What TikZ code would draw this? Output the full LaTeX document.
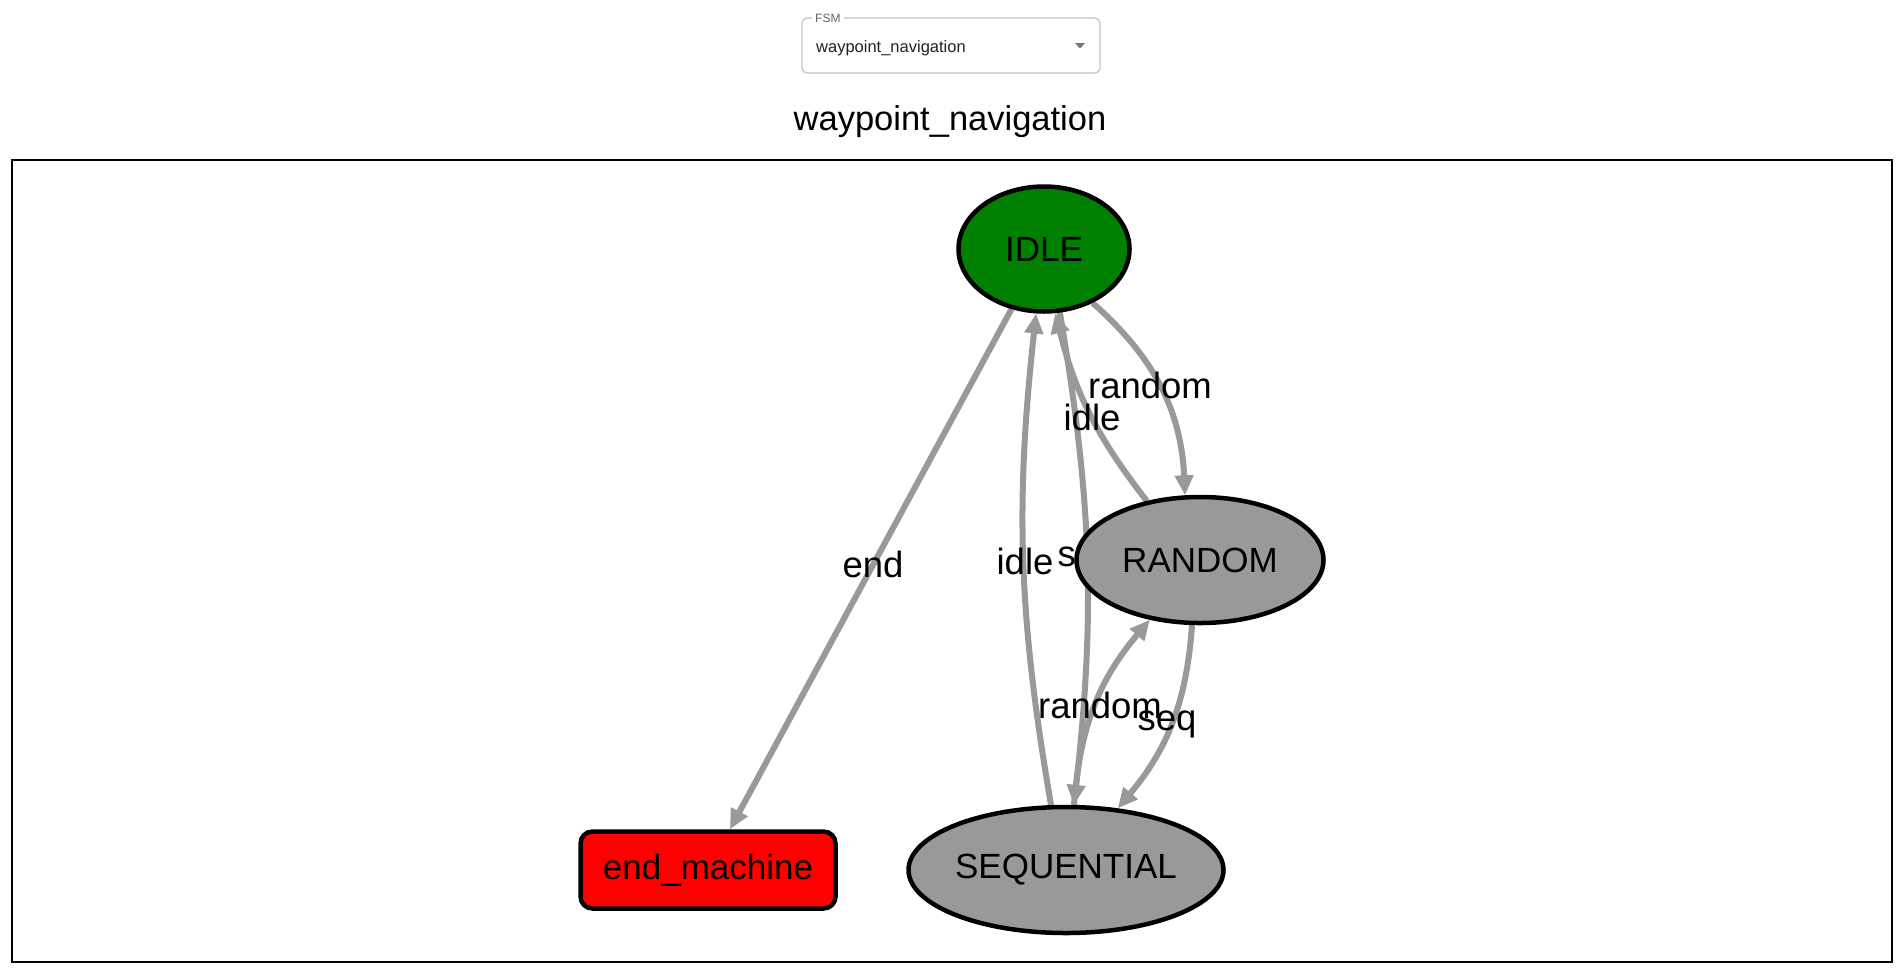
\documentclass[tikz,border=0pt]{standalone}
\usepackage{fontspec}
\setmainfont{Liberation Sans}
\usepackage{xcolor}
\usetikzlibrary{positioning,shapes.geometric,arrows.meta,backgrounds}

\definecolor{idlegreen}{HTML}{008000}
\definecolor{stategray}{HTML}{999999}
\definecolor{boxgray}{HTML}{C4C4C4}
\definecolor{labelgray}{HTML}{666666}

\begin{document}
\begin{tikzpicture}[
	x=1pt, y=-1pt, % 1 đơn vị = 1 px của ảnh gốc
	state/.style={
		ellipse,
		draw=black, line width=4.5pt,
		fill=stategray,
		inner sep=0pt,
		minimum height=126pt,
		font=\fontsize{35}{40}\selectfont
	},
	endstate/.style={          % Trạng thái kết thúc (đỏ)
		rectangle, rounded corners=12pt,
		draw=black, line width=4.5pt,
		fill=red,
		minimum width=255pt, minimum height=77pt,
		font=\fontsize{35}{40}\selectfont
	},
	trans/.style={             % Mũi tên chuyển trạng thái
		draw=stategray, line width=6pt,
		-{Triangle[length=20pt, width=18pt]}
	},
	elabel/.style={
		inner sep=0pt,
		font=\fontsize{36.5}{40}\selectfont
	},
	selbox/.style={            % Ô chọn FSM
		draw=boxgray, line width=1.2pt, rounded corners=5pt,
		minimum width=298pt, minimum height=55pt
	}
	]
	\useasboundingbox (0,0) rectangle (1902,978);
	
	% --- Ô CHỌN + TIÊU ĐỀ ---
	\node[selbox] (fsmbox) at (951,45.5) {};
	\node[fill=white, inner sep=3pt, anchor=west, text=labelgray,
		font=\fontsize{12}{14}\selectfont] (fsmlbl) at (812,18) {FSM};
	\node[anchor=west, inner sep=0pt, text=black!87,
		font=\fontsize{16.5}{20}\selectfont] (fsmsel) at (816,48) {waypoint\_navigation};
	\fill[black!54] (1075,43) -- (1085,43) -- (1080,48.5) -- cycle;
	\node[font=\fontsize{34.5}{40}\selectfont] (title) at (950,122) {waypoint\_navigation};
	
	% --- TRẠNG THÁI ---
	\node[state, fill=idlegreen, minimum width=171pt, minimum height=125pt] (idle) at (1044,249) {IDLE};
	\node[state, minimum width=247pt] (random) at (1200,560) {RANDOM};
	\node[state, minimum width=315pt] (seq) at (1066,870) {SEQUENTIAL};
	\node[endstate] (endm) at (708,870) {end\_machine};
	
	\begin{scope}[on background layer]
		\fill[white] (0,0) rectangle (1902,978);
		\draw[line width=1.2pt] (12,160) rectangle (1892,962);
		
		% Mũi tên giữa các trạng thái
		\draw[trans] (idle) -- (endm);
		\draw[trans] (idle.-48) to[bend left=23] (random.103);
		\draw[trans] (random.132) to[bend left=12] (idle.-80);
		\draw[trans] (seq.103) to[bend left=8] (idle.-97);
		\draw[trans] (idle.-76) to[bend left=8] (seq.83);
		\draw[trans] (seq.83) to[bend left=18] (random.-130);
		\draw[trans] (random.-97) to[bend left=18] (seq.50);
		
		% Nhãn
		\node[elabel] (l-end) at (873,564) {end};
		\node[elabel] (l-random1) at (1150,385) {random};
		\node[elabel] (l-idle1) at (1092,417) {idle};
		\node[elabel] (l-idle2) at (1025,561) {idle};
		\node[elabel] (l-seq1) at (1087,560) {seq};
		\node[elabel] (l-random2) at (1100,705) {random};
		\node[elabel] (l-seq2) at (1167,724) {seq};
	\end{scope}
\end{tikzpicture}
\end{document}
